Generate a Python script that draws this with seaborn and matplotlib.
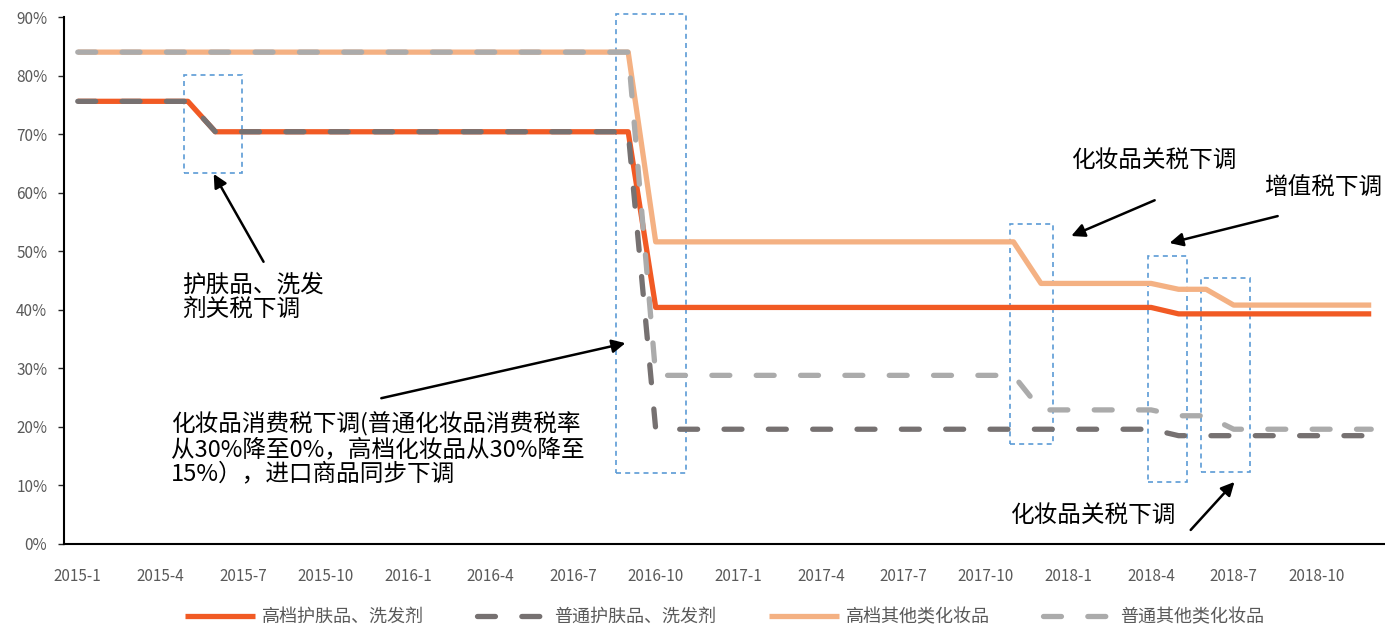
import numpy as np
import pandas as pd
import matplotlib
matplotlib.use("Agg")
import matplotlib.pyplot as plt
import matplotlib.patches as patches
from matplotlib.ticker import PercentFormatter
import seaborn as sns

# Months on the x axis (categorical, one per month)
months = [f"{y}-{m}" for y in range(2015, 2019) for m in range(1, 13)]

# Composite tax rates (%)
high_skin = [75.6] * 5 + [70.4] * 16 + [40.4] * 19 + [39.3] * 8
norm_skin = [75.6] * 5 + [70.4] * 16 + [19.6] * 19 + [18.5] * 8
high_other = [84.0] * 21 + [51.6] * 14 + [44.5] * 5 + [43.5] * 2 + [40.8] * 6
norm_other = [84.0] * 21 + [28.8] * 14 + [22.9] * 5 + [21.9] * 2 + [19.6] * 6

series_names = ["高档护肤品、洗发剂", "普通护肤品、洗发剂", "高档其他类化妆品", "普通其他类化妆品"]
series_vals = [high_skin, norm_skin, high_other, norm_other]
colors = ["#F15A24", "#767171", "#F4B183", "#ABABAB"]
dash_styles = ["", (3.4, 5), "", (3.4, 5)]

tick_step = 3

frames = []
for name, vals in zip(series_names, series_vals):
    frames.append(pd.DataFrame({"idx": np.arange(len(months)), "rate": vals, "series": name}))
df = pd.concat(frames, ignore_index=True)

sns.set_style("white")
plt.rcParams["font.family"] = ["Noto Sans CJK SC", "DejaVu Sans"]

fig = plt.figure(figsize=(13.85, 6.27), dpi=100)
ax = fig.add_axes([64 / 1385, 83 / 627, 1321 / 1385, 527 / 627])

sns.lineplot(
    data=df, x="idx", y="rate", hue="series", style="series",
    hue_order=series_names, style_order=series_names,
    palette=dict(zip(series_names, colors)),
    dashes=dict(zip(series_names, dash_styles)),
    linewidth=3.8, errorbar=None, ax=ax,
)
for line in ax.lines:
    line.set_dash_capstyle("round")
    line.set_solid_capstyle("butt")

ax.set_xlim(-0.5, len(months) - 0.5)
ax.set_ylim(0, 90)
ax.set_yticks(np.arange(0, 91, 10))
ax.yaxis.set_major_formatter(PercentFormatter(100, decimals=0))
ax.set_xticks(np.arange(0, len(months), tick_step))
ax.set_xticklabels(months[::tick_step])
ax.set_xlabel("")
ax.set_ylabel("")

for s in ["top", "right"]:
    ax.spines[s].set_visible(False)
for s in ["left", "bottom"]:
    ax.spines[s].set_color("black")
    ax.spines[s].set_linewidth(1.5)
ax.tick_params(axis="y", left=True, length=4, width=1, pad=8, labelsize=11, labelcolor="#595959")
ax.tick_params(axis="x", bottom=False, pad=14, labelsize=11, labelcolor="#595959")

# dashed boxes marking policy changes (x in month index, y in %)
boxes = [(3.85, 63.3, 2.1, 16.8), (19.56, 12.1, 2.55, 78.4), (33.87, 17.1, 1.56, 37.5),
         (38.9, 10.6, 1.4, 38.6), (40.8, 12.3, 1.8, 33.1)]
for x0, y0, w, h in boxes:
    ax.add_patch(patches.Rectangle((x0, y0), w, h, fill=False, edgecolor="#5B9BD5",
                                   linewidth=1.2, linestyle=(0, (3, 2.5)), clip_on=False))

arrow = dict(arrowstyle="-|>", color="black", lw=1.8, mutation_scale=20, shrinkA=0, shrinkB=0)
ax.annotate("", xy=(4.94, 63.2), xytext=(6.75, 48.2), arrowprops=arrow)
ax.annotate("", xy=(19.9, 34.3), xytext=(11.03, 24.9), arrowprops=arrow)
ax.annotate("", xy=(36.1, 52.6), xytext=(39.13, 58.7), arrowprops=arrow)
ax.annotate("", xy=(39.67, 51.4), xytext=(43.6, 56.0), arrowprops=arrow)
ax.annotate("", xy=(42.03, 10.6), xytext=(40.44, 2.4), arrowprops=arrow, annotation_clip=False)

txt = dict(fontsize=17, color="black", va="top", ha="left", linespacing=1.1)
ax.text(3.8, 46.2, "护肤品、洗发\n剂关税下调", **txt)
ax.text(3.38, 22.6, "化妆品消费税下调(普通化妆品消费税率\n从30%降至0%，高档化妆品从30%降至\n15%），进口商品同步下调", **txt)
ax.text(36.1, 67.5, "化妆品关税下调", **txt)
ax.text(43.1, 62.7, "增值税下调", clip_on=False, **txt)
ax.text(33.87, 6.9, "化妆品关税下调", **txt)

handles, labels = ax.get_legend_handles_labels()
for h in handles:
    h.set_dash_capstyle("round")
    h.set_linewidth(3.8)
ax.legend(handles, labels, loc="center", bbox_to_anchor=(0.5, -0.1385), ncol=4,
          frameon=False, fontsize=13, labelcolor="#595959", handlelength=3.9,
          handletextpad=0.4, columnspacing=2.9)

fig.savefig("out.png", dpi=100)
